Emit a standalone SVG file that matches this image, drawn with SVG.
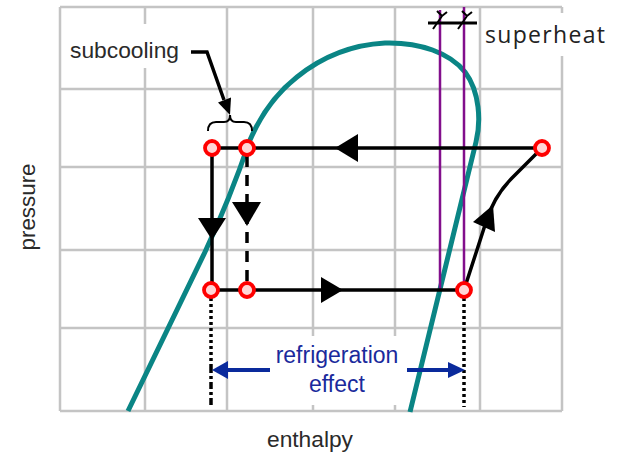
<svg xmlns="http://www.w3.org/2000/svg" width="623" height="452" viewBox="0 0 623 452">
<style>
.grid{stroke:#c4c4c4;stroke-width:2.5;fill:none}
.teal{stroke:#0a8585;stroke-width:5;fill:none;stroke-linecap:butt}
.purp{stroke:#820f8c;stroke-width:2.5;fill:none}
.blk{stroke:#000;stroke-width:3.5;fill:none}
.ah{fill:#000;stroke:none}
.blue{stroke:#0a2a9c;stroke-width:4;fill:none}
.bah{fill:#0a2a9c}
.pt{fill:#ffd6d6;stroke:#f00;stroke-width:3.8}
.lbl{font-family:"Liberation Sans",Arial,sans-serif;font-size:22px;fill:#2a2a2a}
.blu{font-family:"Liberation Sans",Arial,sans-serif;font-size:23px;fill:#1a2a9c;text-anchor:middle}
</style>
<rect width="623" height="452" fill="#fff"/>
<g id="grid">
<path class="grid" d="M60,7V411M145,7V411M227,7V411M313,7V411M395,7V411M480,7V411M562,7V411M60,7H562M60,89H562M60,167H562M60,250H562M60,328H562M60,411H562"/>
<rect x="64" y="24" width="122" height="44" fill="#fff"/>
<rect x="482" y="13" width="130" height="43" fill="#fff"/>
<rect x="272" y="336" width="130" height="69" fill="#fff"/>
</g>
<g id="saturation-curve">
<path class="teal" d="M128,411 L205,252 C220,220 238,175 250,140 C262,112 278,92 297,77 C318,60 348,45 385,43 C420,42 450,53 465,72 C480,92 481,122 476,142 L410,412"/>
</g>
<g id="superheat-lines">
<path class="purp" d="M440,10V290M464,7V290"/>
</g>
<g id="connectors">
<path class="blk" d="M212,148H535M212,290H458M212,148V290"/>
<path class="ah" d="M335,148L358,134L358,162Z"/>
<path class="ah" d="M343,290L321,277L321,303Z"/>
<path class="ah" d="M198,218L226,218L212,240Z"/>
<path class="blk" d="M247,156V284" stroke-dasharray="11 8"/>
<path class="ah" d="M232,202L261,202L247,226Z"/>
<path class="blk" d="M464,290 L486,222 Q494,196 512,178 L542,148"/>
<path class="ah" d="M493,205L473,222L495,232Z"/>
<path class="blk" d="M211,298V366M464,298V407" stroke-dasharray="3 3"/>
<path class="blk" d="M211,366V407" stroke-dasharray="7 3 3 3"/>
<path class="blk" d="M191,52H207L224,100"/>
<path class="ah" d="M230,115L218,102.5L231,97.5Z"/>
<path stroke="#000" stroke-width="2" fill="none" d="M208,131 Q208,122 216,122 L224,122 Q230,122 230,115 Q230,122 236,122 L244,122 Q252,122 252,131"/>
<path stroke="#000" stroke-width="3" fill="none" d="M428,23H477"/>
<path stroke="#000" stroke-width="2" fill="none" d="M433,29L442,16M437,11L442,16L447,12M458,29L467,16M462,11L467,16L472,12"/>
<path class="blue" d="M270,370H226M407,370H450"/>
<path class="bah" d="M212,370L228,361L228,379Z"/>
<path class="bah" d="M465,370L448,362L448,378Z"/>
</g>
<g id="p1"><circle class="pt" cx="212" cy="148" r="7"/></g>
<g id="p2"><circle class="pt" cx="247" cy="148" r="7"/></g>
<g id="p3"><circle class="pt" cx="542" cy="148" r="7"/></g>
<g id="p4"><circle class="pt" cx="211" cy="290" r="7"/></g>
<g id="p5"><circle class="pt" cx="247" cy="290" r="7"/></g>
<g id="p6"><circle class="pt" cx="464" cy="290" r="7"/></g>
<g id="labels">
<text class="lbl" x="70" y="58" textLength="109" lengthAdjust="spacingAndGlyphs">subcooling</text>
<text x="485" y="43" font-family="'Open Sans',sans-serif" font-size="23" fill="#222" textLength="120" lengthAdjust="spacing">superheat</text>
<text class="lbl" transform="translate(35,207) rotate(-90)" text-anchor="middle" textLength="87" lengthAdjust="spacingAndGlyphs">pressure</text>
<text class="lbl" x="267" y="447" textLength="86" lengthAdjust="spacingAndGlyphs">enthalpy</text>
<text class="blu" x="337" y="363">refrigeration</text>
<text class="blu" x="337" y="392">effect</text>
</g>
</svg>
